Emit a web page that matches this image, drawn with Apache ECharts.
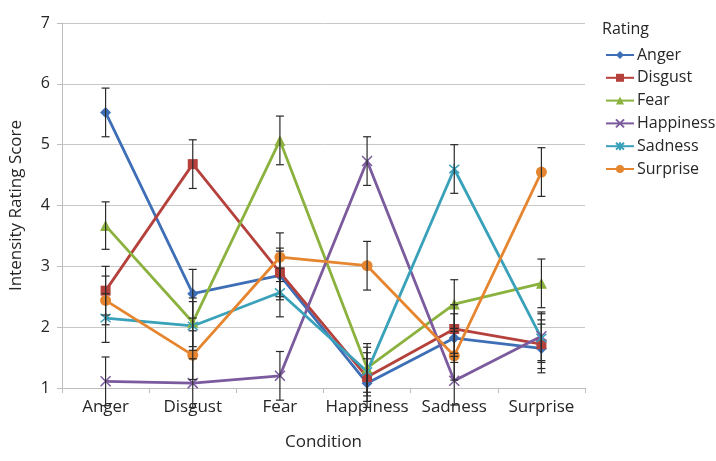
<!DOCTYPE html>
<html>
<head>
<meta charset="utf-8">
<script src="https://cdn.jsdelivr.net/npm/echarts@6/dist/echarts.min.js"></script>
<style>
html,body{margin:0;padding:0;background:#fff;}
#c{width:716px;height:461px;}
</style>
</head>
<body>
<div id="c"></div>
<script>
const conditions = ['Anger', 'Disgust', 'Fear', 'Happiness', 'Sadness', 'Surprise'];
const ratingNames = ['Anger', 'Disgust', 'Fear', 'Happiness', 'Sadness', 'Surprise'];
const angerRating     = [5.53, 2.55, 2.85, 1.08, 1.82, 1.65];
const disgustRating   = [2.60, 4.68, 2.90, 1.18, 1.97, 1.72];
const fearRating      = [3.67, 2.08, 5.07, 1.33, 2.38, 2.72];
const happinessRating = [1.11, 1.08, 1.20, 4.73, 1.12, 1.85];
const sadnessRating   = [2.15, 2.02, 2.57, 1.27, 4.60, 1.82];
const surpriseRating  = [2.44, 1.54, 3.15, 3.01, 1.53, 4.55];
const angerErr     = [0.40, 0.40, 0.40, 0.40, 0.40, 0.40];
const disgustErr   = [0.40, 0.40, 0.40, 0.40, 0.40, 0.40];
const fearErr      = [0.39, 0.40, 0.40, 0.40, 0.40, 0.40];
const happinessErr = [0.40, 0.40, 0.40, 0.40, 0.40, 0.40];
const sadnessErr   = [0.40, 0.40, 0.40, 0.40, 0.40, 0.40];
const surpriseErr  = [0.40, 0.40, 0.40, 0.40, 0.40, 0.40];
const yTicks = [1, 2, 3, 4, 5, 6, 7];

const values = [angerRating, disgustRating, fearRating, happinessRating, sadnessRating, surpriseRating];
const errors = [angerErr, disgustErr, fearErr, happinessErr, sadnessErr, surpriseErr];
const colors = ['#3E6FB6', '#B5413D', '#8BB23E', '#7B5B9D', '#39A1B9', '#E6852F'];
const symbols = [
  'diamond',
  'rect',
  'triangle',
  'path://M0,0L10,10M10,0L0,10',
  'path://M0,0L10,10M10,0L0,10M5,-1L5,11',
  'circle'
];
const symbolSizes = [11, 10, 11, 10, 10, 11];

const FONT = 'Open Sans';
const TXT = '#262626';
const chart = echarts.init(document.getElementById('c'));

const series = [];
ratingNames.forEach((name, i) => {
  const isStroke = i === 3 || i === 4;
  series.push({
    name: name,
    type: 'line',
    data: values[i],
    symbol: symbols[i],
    symbolSize: symbolSizes[i],
    showAllSymbol: true,
    z: 3,
    lineStyle: { color: colors[i], width: 2.8 },
    itemStyle: isStroke
      ? { color: colors[i], borderColor: colors[i], borderWidth: 1.5 }
      : { color: colors[i], borderWidth: 0 },
    emphasis: { disabled: true },
    animation: false
  });
});
ratingNames.forEach((name, i) => {
  series.push({
    name: name + ' error',
    type: 'custom',
    z: 4,
    data: values[i].map((v, j) => [j, v - errors[i][j], v + errors[i][j]]),
    renderItem: function (params, api) {
      const x = api.value(0);
      const lo = api.coord([x, api.value(1)]);
      const hi = api.coord([x, api.value(2)]);
      const w = 4;
      const style = { stroke: '#2a2a2a', lineWidth: 1.2 };
      return {
        type: 'group',
        children: [
          { type: 'line', shape: { x1: lo[0], y1: lo[1], x2: hi[0], y2: hi[1] }, style: style },
          { type: 'line', shape: { x1: lo[0] - w, y1: lo[1], x2: lo[0] + w, y2: lo[1] }, style: style },
          { type: 'line', shape: { x1: hi[0] - w, y1: hi[1], x2: hi[0] + w, y2: hi[1] }, style: style }
        ]
      };
    },
    animation: false,
    silent: true
  });
});

chart.setOption({
  backgroundColor: '#fff',
  animation: false,
  textStyle: { fontFamily: FONT },
  grid: { left: 61, right: 131, top: 23, bottom: 73, containLabel: false },
  title: {
    text: 'Rating',
    left: 597, top: 16,
    textStyle: { fontFamily: FONT, fontSize: 16, fontWeight: 'normal', color: TXT }
  },
  legend: {
    data: ratingNames,
    orient: 'vertical',
    left: 600, top: 42,
    itemWidth: 28, itemHeight: 10, itemGap: 6.8,
    textStyle: { fontFamily: FONT, fontSize: 16, lineHeight: 16, color: TXT, padding: [0, 0, 0, -2] },
    selectedMode: false
  },
  xAxis: {
    type: 'category',
    data: conditions,
    boundaryGap: true,
    name: 'Condition',
    nameLocation: 'middle',
    nameGap: 46,
    nameTextStyle: { fontFamily: FONT, fontSize: 17, color: TXT },
    axisLine: { lineStyle: { color: '#bdbdbd', width: 1 } },
    axisTick: { show: true, alignWithLabel: false, length: 5, lineStyle: { color: '#bdbdbd' } },
    axisLabel: { fontFamily: FONT, fontSize: 17, color: TXT, margin: 11, interval: 0 },
    splitLine: { show: false }
  },
  yAxis: {
    type: 'value',
    min: yTicks[0], max: yTicks[yTicks.length - 1], interval: 1,
    name: 'Intensity Rating Score',
    nameLocation: 'middle',
    nameGap: 37,
    nameTextStyle: { fontFamily: FONT, fontSize: 17, color: TXT },
    axisLine: { show: true, lineStyle: { color: '#bdbdbd', width: 1 } },
    axisTick: { show: true, length: 5, lineStyle: { color: '#bdbdbd' } },
    axisLabel: { fontFamily: FONT, fontSize: 16, color: TXT, margin: 12 },
    splitLine: { show: true, lineStyle: { color: '#c8c8c8', width: 1 } }
  },
  series: series
});
</script>
</body>
</html>
